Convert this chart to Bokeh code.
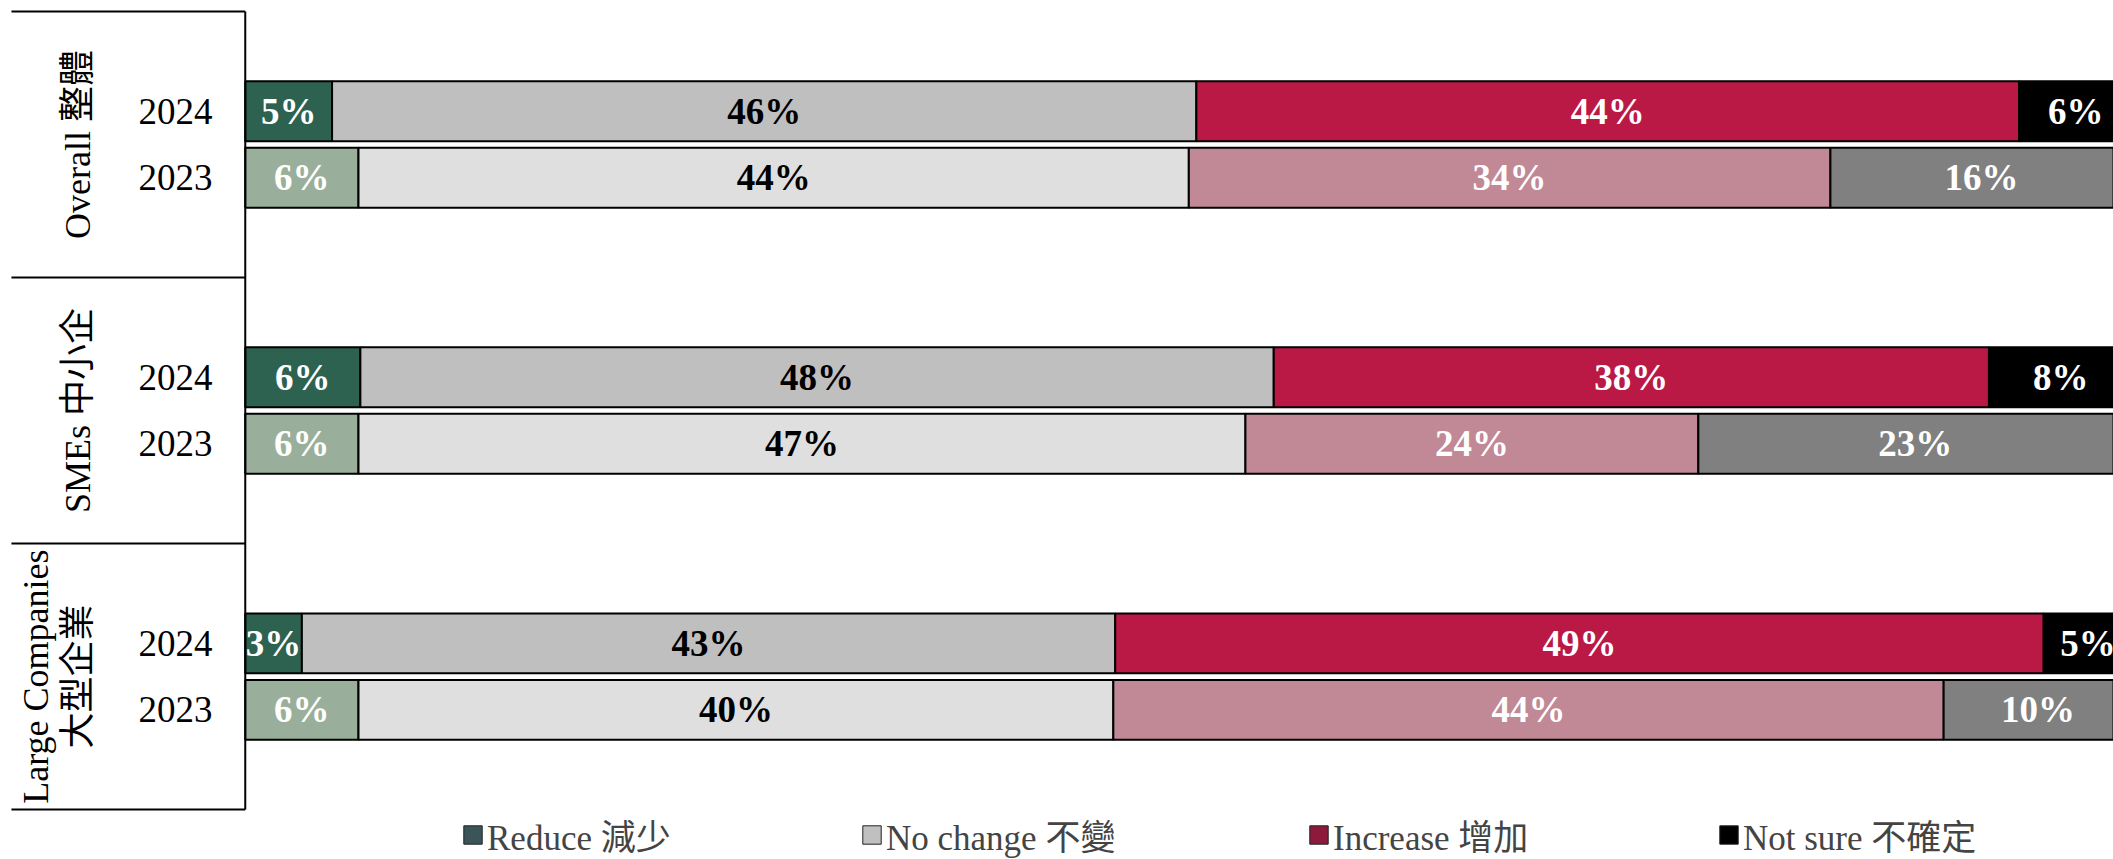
import math
from bokeh.plotting import figure
from bokeh.models import ColumnDataSource, Range1d, Legend, LegendItem
from bokeh.core.properties import value
from bokeh.embed import file_html
from bokeh.resources import INLINE

# ---------------- data ----------------
groups = ["Overall 整體", "SMEs 中小企", "Large Companies\n大型企業"]
years = ["2024", "2023"]
responses = ["Reduce 減少", "No change 不變", "Increase 增加", "Not sure 不確定"]

# rows: Overall 2024, Overall 2023, SMEs 2024, SMEs 2023, Large 2024, Large 2023 (%)
reduce_vals = [4.6, 6.0, 6.1, 6.0, 3.0, 6.0]
no_change_vals = [45.8, 44.0, 48.4, 47.0, 43.1, 40.0]
increase_vals = [43.6, 34.0, 37.9, 24.0, 49.2, 44.0]
not_sure_vals = [6.0, 16.0, 7.6, 23.0, 4.7, 10.0]

colors_2024 = ["#2D6150", "#BFBFBF", "#BA1946", "#000000"]
colors_2023 = ["#9AAF9B", "#DFDFDF", "#C18896", "#808080"]
label_colors = ["white", "black", "white", "white"]
legend_colors = ["#3B5458", "#C0C0C0", "#8C1A3C", "#000000"]

FONT = "Liberation Serif, Noto Sans CJK TC"

# ---------------- layout helpers ----------------
series = [reduce_vals, no_change_vals, increase_vals, not_sure_vals]
rows_y = []
for gi in range(len(groups)):
    for yi in range(len(years)):
        rows_y.append(4 * gi + 1.5 + yi)

seg = dict(y=[], left=[], right=[], fill=[], label=[], lx=[], tc=[])
for r in range(len(rows_y)):
    start = 0.0
    is2024 = (r % 2 == 0)
    for k, vals in enumerate(series):
        v = vals[r]
        seg["y"].append(rows_y[r])
        seg["left"].append(start)
        seg["right"].append(start + v)
        seg["fill"].append(colors_2024[k] if is2024 else colors_2023[k])
        seg["label"].append(f"{round(v)}%")
        seg["lx"].append(start + v / 2)
        seg["tc"].append(label_colors[k])
        start += v
src = ColumnDataSource(seg)

p = figure(width=2113, height=859,
           x_range=Range1d(-12.97, 99.0), y_range=Range1d(12.75, -0.165),
           output_backend="svg", toolbar_location=None, min_border=0,
           x_axis_type=None, y_axis_type=None)
p.outline_line_color = None
p.background_fill_color = "white"

p.hbar(y="y", left="left", right="right", height=0.9, fill_color="fill",
       line_color="black", line_width=2, source=src)
p.text(x="lx", y="y", text="label", text_color="tc", source=src,
       text_font=value(FONT), text_font_style="bold", text_font_size="37px",
       text_align="center", text_baseline="middle")

# category axis area
bounds = [4 * i for i in range(len(groups) + 1)]
axis_left = -12.39
p.segment(x0=[axis_left] * len(bounds), y0=bounds, x1=[0] * len(bounds), y1=bounds,
          line_color="black", line_width=2)
p.segment(x0=[0], y0=[bounds[0]], x1=[0], y1=[bounds[-1]], line_color="black", line_width=2)

p.text(x=[-3.7] * len(rows_y), y=rows_y, text=years * len(groups),
       text_font=value(FONT), text_font_size="37px", text_color="black",
       text_align="center", text_baseline="middle")
p.text(x=[-7.8] * len(groups), y=[4 * gi + 2 for gi in range(len(groups))], text=groups,
       angle=math.pi / 2, text_font=value(FONT), text_font_size="36px", text_color="black",
       text_align="center", text_baseline="bottom", text_line_height=1.05)

# legend
legend_x = [461, 860, 1307, 1717]
nan = float("nan")
for i, name in enumerate(responses):
    r = p.hbar(y=[nan], left=[nan], right=[nan], height=0.9, fill_color=legend_colors[i],
               line_color="#222222", line_width=1)
    leg = Legend(items=[LegendItem(label=name, renderers=[r])], location=(legend_x[i], -1),
                 orientation="horizontal", glyph_width=23, glyph_height=23, label_standoff=3,
                 padding=0, margin=0, border_line_color=None, background_fill_alpha=0,
                 label_text_font=FONT, label_text_font_size="35px")
    p.add_layout(leg)

open("out.html", "w").write(file_html(p, INLINE))
